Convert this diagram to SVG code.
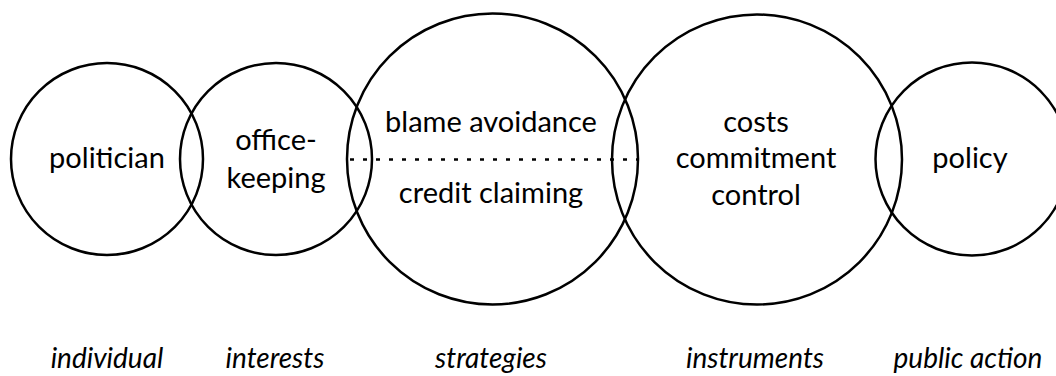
<svg xmlns="http://www.w3.org/2000/svg" width="1056" height="376" viewBox="0 0 1056 376">
<style>
.c{fill:none;stroke:#000;stroke-width:2.5}
.t{font-family:Lato,"Open Sans",sans-serif;font-size:29px;fill:#000;text-anchor:middle}
.l{font-family:Lato,"Open Sans",sans-serif;font-size:28px;font-style:italic;fill:#000;text-anchor:middle}
.d{stroke:#000;stroke-width:2.4;stroke-dasharray:4 9}
</style>
<rect width="1056" height="376" fill="#fff"/>
<g id="politician"><circle class="c" cx="107" cy="159" r="96"/><text class="t" x="107" y="168">politician</text></g>
<g id="office-keeping"><circle class="c" cx="276" cy="159" r="96"/><text class="t" x="276" y="150">office-</text><text class="t" x="276" y="188">keeping</text></g>
<g id="strategies"><circle class="c" cx="492.5" cy="159" r="145.5"/><text class="t" x="491" y="132">blame avoidance</text><text class="t" x="491" y="203">credit claiming</text></g>
<g id="instruments"><circle class="c" cx="757" cy="159.5" r="145"/><text class="t" x="756" y="132">costs</text><text class="t" x="756" y="168">commitment</text><text class="t" x="756" y="205">control</text></g>
<g id="policy"><circle class="c" cx="972" cy="159" r="96.5"/><text class="t" x="970" y="168">policy</text></g>
<g id="connectors"><line class="d" x1="350" y1="159.5" x2="639" y2="159.5"/></g>
<g id="labels">
<text class="l" x="107" y="368">individual</text>
<text class="l" x="275" y="368">interests</text>
<text class="l" x="491" y="368">strategies</text>
<text class="l" x="755" y="368">instruments</text>
<text class="l" x="968" y="368">public action</text>
</g>
</svg>
